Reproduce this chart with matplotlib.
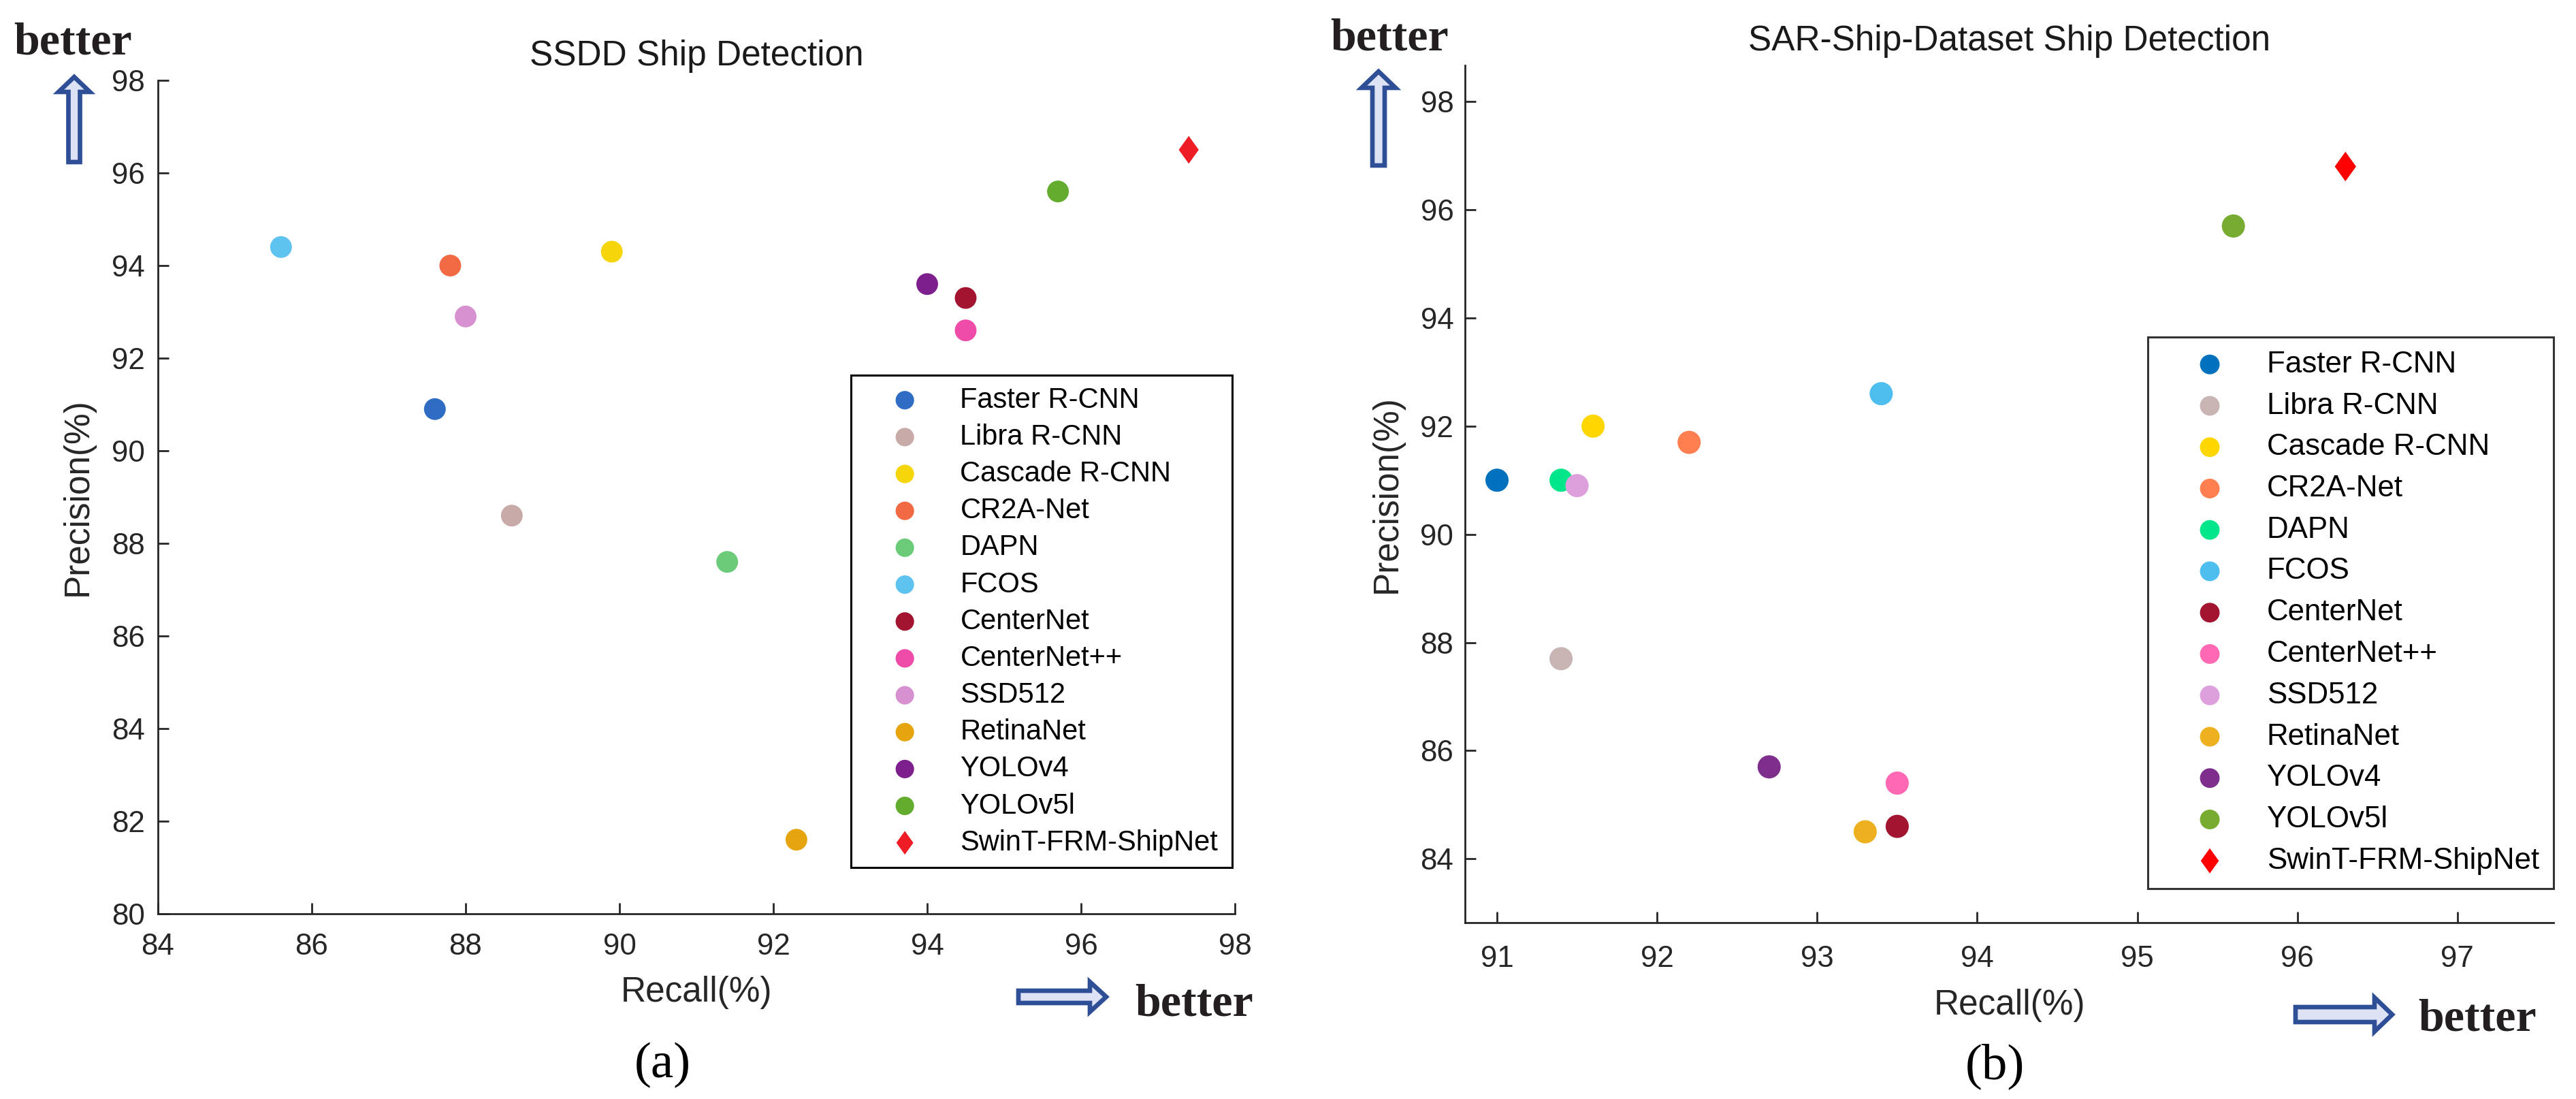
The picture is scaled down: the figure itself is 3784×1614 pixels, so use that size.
import matplotlib
matplotlib.use("Agg")
import matplotlib.pyplot as plt
from matplotlib.patches import FancyArrow

plt.rcParams['font.family'] = ['Liberation Sans', 'DejaVu Sans']

# ---------------- data ----------------
methods = ["Faster R-CNN", "Libra R-CNN", "Cascade R-CNN", "CR2A-Net", "DAPN", "FCOS",
           "CenterNet", "CenterNet++", "SSD512", "RetinaNet", "YOLOv4", "YOLOv5l",
           "SwinT-FRM-ShipNet"]

ssdd_recall = [87.6, 88.6, 89.9, 87.8, 91.4, 85.6, 94.5, 94.5, 88.0, 92.3, 94.0, 95.7, 97.4]
ssdd_precision = [90.9, 88.6, 94.3, 94.0, 87.6, 94.4, 93.3, 92.6, 92.9, 81.6, 93.6, 95.6, 96.5]

sar_recall = [91.0, 91.4, 91.6, 92.2, 91.4, 93.4, 93.5, 93.5, 91.5, 93.3, 92.7, 95.6, 96.3]
sar_precision = [91.0, 87.7, 92.0, 91.7, 91.0, 92.6, 84.6, 85.4, 90.9, 84.5, 85.7, 95.7, 96.8]

ssdd_colors = ["#2F6CC4", "#C8AAA8", "#F5D60A", "#F26A44", "#6CCB78", "#5EC3EE",
               "#A2142F", "#EF4BA8", "#D891D0", "#E6A50F", "#7E1F8E", "#63AC2E", "#EE1C24"]
sar_colors = ["#0072BD", "#C9B4B4", "#FFD700", "#FF7F50", "#00E68A", "#4DBEEE",
              "#A2142F", "#FF69B4", "#DDA0DD", "#EDB120", "#7E2F8E", "#77AC30", "#FF0000"]

ssdd_xticks = [84, 86, 88, 90, 92, 94, 96, 98]
ssdd_yticks = [80, 82, 84, 86, 88, 90, 92, 94, 96, 98]
sar_xticks = [91, 92, 93, 94, 95, 96, 97]
sar_yticks = [84, 86, 88, 90, 92, 94, 96, 98]

# ---------------- figure ----------------
W, H, DPI = 3784, 1614, 200
fig = plt.figure(figsize=(W / DPI, H / DPI), dpi=DPI)
fig.patch.set_facecolor("white")

diamond = [(0, 1), (0.72, 0), (0, -1), (-0.72, 0), (0, 1)]


def px_rect(x0, y0, x1, y1):
    return [x0 / W, 1 - y1 / H, (x1 - x0) / W, (y1 - y0) / H]


def setup_axes(ax, xlim, ylim, xticks, yticks, title, ticksize=15.8):
    ax.set_xlim(*xlim)
    ax.set_ylim(*ylim)
    ax.set_xticks(xticks)
    ax.set_yticks(yticks)
    ax.spines['top'].set_visible(False)
    ax.spines['right'].set_visible(False)
    for s in ('left', 'bottom'):
        ax.spines[s].set_color('#262626')
        ax.spines[s].set_linewidth(1.0)
    ax.tick_params(direction='in', length=5.8, width=1.0, color='#262626',
                   labelsize=ticksize, labelcolor='#262626')
    ax.tick_params(axis='y', pad=7)
    ax.tick_params(axis='x', pad=10)
    ax.set_xlabel("Recall(%)", fontsize=18.5, color='#262626', labelpad=8)
    ax.set_ylabel("Precision(%)", fontsize=18.5, color='#262626', labelpad=9)
    ax.set_title(title, fontsize=18.5, color='#1a1a1a', pad=8)


def scatter_all(ax, xs, ys, colors, s_circle, s_diamond):
    for name, x, y, c in zip(methods, xs, ys, colors):
        if name == "SwinT-FRM-ShipNet":
            ax.scatter([x], [y], s=s_diamond, marker=diamond, color=c, edgecolors='none',
                       label=name, zorder=3)
        else:
            ax.scatter([x], [y], s=s_circle, marker='o', color=c, edgecolors='none',
                       label=name, zorder=3)


# left panel
ax1 = fig.add_axes(px_rect(232, 118, 1814, 1342))
scatter_all(ax1, ssdd_recall, ssdd_precision, ssdd_colors, 132, 215)
setup_axes(ax1, (84, 98), (80, 98), ssdd_xticks, ssdd_yticks, "SSDD Ship Detection")
leg1 = ax1.legend(loc='upper left', bbox_to_anchor=(1250 / W, 0, 560 / W, 1 - 551 / H),
                  bbox_transform=fig.transFigure, mode='expand', borderaxespad=0,
                  fontsize=15, frameon=True, fancybox=False, framealpha=1,
                  edgecolor='black', labelspacing=0.34, handlelength=3.0,
                  handletextpad=0.45, borderpad=0.4, markerscale=0.85, scatterpoints=1)
leg1.get_frame().set_linewidth(1.1)

# right panel
ax2 = fig.add_axes(px_rect(2152, 96, 3751, 1355))
scatter_all(ax2, sar_recall, sar_precision, sar_colors, 150, 245)
setup_axes(ax2, (90.8, 97.6), (82.82, 98.67), sar_xticks, sar_yticks,
           "SAR-Ship-Dataset Ship Detection")
ax2.tick_params(axis='x', pad=12)
ax2.tick_params(axis='y', pad=6)
leg2 = ax2.legend(loc='upper left', bbox_to_anchor=(3155 / W, 0, 596 / W, 1 - 495 / H),
                  bbox_transform=fig.transFigure, mode='expand', borderaxespad=0,
                  fontsize=15.8, frameon=True, fancybox=False, framealpha=1,
                  edgecolor='#333333', labelspacing=0.45, handlelength=3.25,
                  handletextpad=0.28, borderpad=0.45, markerscale=0.85, scatterpoints=1)
leg2.get_frame().set_linewidth(1.1)

# ---------------- "better" annotations ----------------
arrow_face = "#DDE3F5"
arrow_edge = "#2E4E96"


def px_arrow(x0, y0, x1, y1, width, head_width, head_length):
    # pixel coordinates (origin top-left) -> inches
    a = FancyArrow(x0 / DPI, (H - y0) / DPI, (x1 - x0) / DPI, -(y1 - y0) / DPI,
                   width=width / DPI, head_width=head_width / DPI,
                   head_length=head_length / DPI, length_includes_head=True,
                   transform=fig.dpi_scale_trans, facecolor=arrow_face,
                   edgecolor=arrow_edge, linewidth=2.4, joinstyle='miter')
    fig.patches.append(a)


px_arrow(109, 238, 109, 113, 17, 46, 22)
px_arrow(2025, 243, 2025, 105, 18, 50, 24)
px_arrow(1496, 1464, 1625, 1464, 18, 44, 24)
px_arrow(3372, 1490, 3514, 1490, 22, 50, 26)


def better(x, y):
    fig.text(x / W, 1 - y / H, "better", fontsize=24.5, fontweight='bold',
             family=['Liberation Serif', 'DejaVu Serif'], ha='left', va='baseline',
             color='#231F20')


better(20, 79)
better(1954, 73)
better(1667, 1492)
better(3552, 1513)

fig.text(973 / W, 1 - 1564 / H, "(a)", fontsize=27,
         family=['Liberation Serif', 'DejaVu Serif'], ha='center', va='center')
fig.text(2930 / W, 1 - 1566 / H, "(b)", fontsize=27,
         family=['Liberation Serif', 'DejaVu Serif'], ha='center', va='center')

fig.savefig("out.png", dpi=DPI, facecolor='white')
